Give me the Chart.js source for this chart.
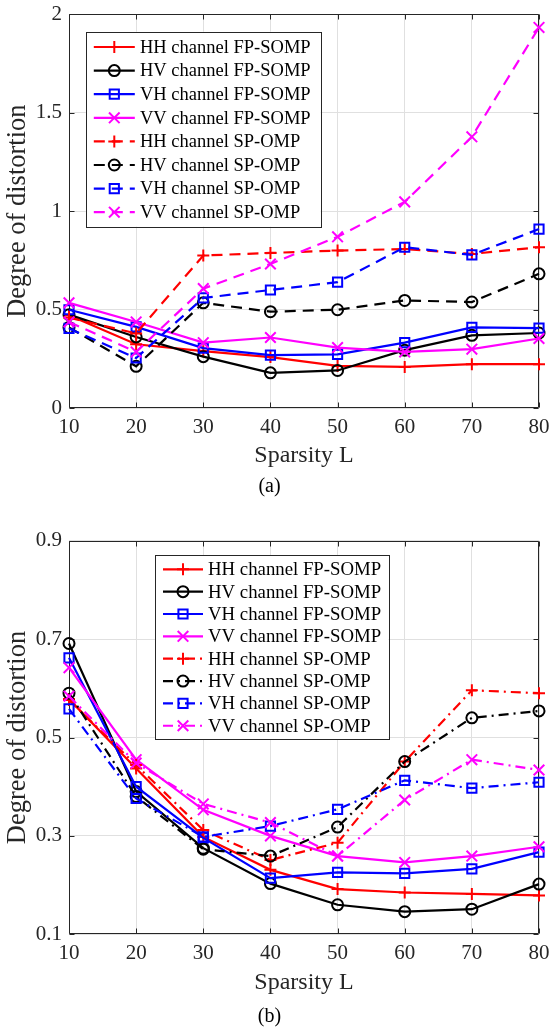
<!DOCTYPE html>
<html>
<head>
<meta charset="utf-8">
<title>Degree of distortion vs. sparsity</title>
<script src="https://cdn.jsdelivr.net/npm/chart.js@4/dist/chart.umd.min.js"></script>
<style>
  html, body { margin: 0; padding: 0; background: #ffffff; }
  #wrap { width: 549px; height: 1030px; position: relative; overflow: hidden; }
  canvas { display: block; }
</style>
</head>
<body>
<div id="wrap">
  <canvas id="chartA" width="549" height="515"></canvas>
  <canvas id="chartB" width="549" height="515"></canvas>
</div>
<script>
// ---- data ----
const sparsity = ['10', '20', '30', '40', '50', '60', '70', '80'];
const seriesNames = [
  'HH channel FP-SOMP', 'HV channel FP-SOMP', 'VH channel FP-SOMP', 'VV channel FP-SOMP',
  'HH channel SP-OMP', 'HV channel SP-OMP', 'VH channel SP-OMP', 'VV channel SP-OMP'
];

// panel (a)
const hhFpA = [0.472, 0.325, 0.290, 0.260, 0.215, 0.210, 0.224, 0.224];
const hvFpA = [0.475, 0.362, 0.262, 0.180, 0.192, 0.295, 0.370, 0.382];
const vhFpA = [0.500, 0.413, 0.305, 0.270, 0.274, 0.333, 0.410, 0.407];
const vvFpA = [0.535, 0.438, 0.333, 0.359, 0.308, 0.286, 0.300, 0.354];
const hhSpA = [0.460, 0.380, 0.775, 0.788, 0.800, 0.808, 0.783, 0.817];
const hvSpA = [0.410, 0.213, 0.535, 0.490, 0.500, 0.547, 0.539, 0.682];
const vhSpA = [0.405, 0.255, 0.560, 0.600, 0.640, 0.817, 0.778, 0.909];
const vvSpA = [0.438, 0.286, 0.607, 0.732, 0.870, 1.047, 1.377, 1.932];
const yTicksA = [0, 0.5, 1, 1.5, 2];
const yTickLabelsA = ['0', '0.5', '1', '1.5', '2'];

// panel (b)
const hhFpB = [0.578, 0.437, 0.298, 0.231, 0.192, 0.185, 0.182, 0.179];
const hvFpB = [0.691, 0.390, 0.275, 0.203, 0.160, 0.146, 0.151, 0.202];
const vhFpB = [0.662, 0.400, 0.296, 0.214, 0.226, 0.224, 0.233, 0.267];
const vvFpB = [0.642, 0.455, 0.353, 0.300, 0.259, 0.246, 0.259, 0.278];
const hhSpB = [0.576, 0.444, 0.312, 0.251, 0.286, 0.451, 0.596, 0.590];
const hvSpB = [0.590, 0.380, 0.273, 0.259, 0.318, 0.451, 0.540, 0.554];
const vhSpB = [0.558, 0.376, 0.298, 0.320, 0.354, 0.413, 0.397, 0.409];
const vvSpB = [0.584, 0.448, 0.365, 0.327, 0.259, 0.373, 0.455, 0.434];
const yTicksB = [0.1, 0.3, 0.5, 0.7, 0.9];
const yTickLabelsB = ['0.1', '0.3', '0.5', '0.7', '0.9'];

// ---- styling ----
const SERIF = '"Liberation Serif", "Times New Roman", Times, serif';
const AXIS_COLOR = '#262626';
const GRID_COLOR = '#e0e0e0';
const markerStyles = [
  { color: '#ff0000', point: 'cross',    radius: 6 },
  { color: '#000000', point: 'circle',   radius: 5.5 },
  { color: '#0000ff', point: 'rect',     radius: 6.5 },
  { color: '#ff00ff', point: 'crossRot', radius: 7.5 }
];
const LINE_W = 2.2;

function makeDatasets(seriesList, spDash) {
  return seriesList.map((values, i) => {
    const st = markerStyles[i % 4];
    return {
      label: seriesNames[i],
      data: values,
      borderColor: st.color,
      backgroundColor: 'rgba(0,0,0,0)',
      borderWidth: LINE_W,
      borderDash: i >= 4 ? spDash : [],
      pointStyle: st.point,
      pointRadius: st.radius,
      pointHoverRadius: st.radius,
      pointBorderWidth: 2,
      pointBorderColor: st.color,
      pointBackgroundColor: 'rgba(0,0,0,0)',
      tension: 0,
      fill: false,
      clip: false,
      order: seriesList.length - i
    };
  });
}

// marker used in the legend samples
function drawMarker(ctx, style, x, y, r) {
  ctx.beginPath();
  if (style === 'circle') {
    ctx.arc(x, y, r, 0, Math.PI * 2);
  } else if (style === 'rect') {
    const s = r * Math.SQRT1_2;
    ctx.rect(x - s, y - s, 2 * s, 2 * s);
  } else if (style === 'cross') {
    ctx.moveTo(x - r, y); ctx.lineTo(x + r, y);
    ctx.moveTo(x, y - r); ctx.lineTo(x, y + r);
  } else if (style === 'crossRot') {
    const d = r * Math.SQRT1_2;
    ctx.moveTo(x - d, y - d); ctx.lineTo(x + d, y + d);
    ctx.moveTo(x - d, y + d); ctx.lineTo(x + d, y - d);
  }
  ctx.stroke();
}

// axes box with inward tick marks (drawn beneath the data)
const framePlugin = {
  id: 'axesFrame',
  beforeDatasetsDraw(chart) {
    const { ctx, chartArea: a, scales } = chart;
    const L = Math.round(a.left) + 0.5, R = Math.round(a.right) - 0.5;
    const T = Math.round(a.top) + 0.5, B = Math.round(a.bottom) - 0.5;
    const tk = 5;
    ctx.save();
    ctx.strokeStyle = AXIS_COLOR;
    ctx.lineWidth = 1;
    ctx.beginPath();
    ctx.rect(L, T, R - L, B - T);
    scales.x.ticks.forEach((t, i) => {
      const px = Math.round(scales.x.getPixelForTick(i)) + 0.5;
      ctx.moveTo(px, B); ctx.lineTo(px, B - tk);
      ctx.moveTo(px, T); ctx.lineTo(px, T + tk);
    });
    scales.y.ticks.forEach(t => {
      const py = Math.round(scales.y.getPixelForValue(t.value)) + 0.5;
      ctx.moveTo(L, py); ctx.lineTo(L + tk, py);
      ctx.moveTo(R, py); ctx.lineTo(R - tk, py);
    });
    ctx.stroke();
    ctx.restore();
  }
};

// boxed legend placed inside the plot
const boxLegendPlugin = {
  id: 'boxLegend',
  afterDatasetsDraw(chart, args, opts) {
    const { ctx } = chart;
    const b = opts.box;
    ctx.save();
    ctx.fillStyle = '#ffffff';
    ctx.fillRect(b.x0, b.y0, b.x1 - b.x0, b.y1 - b.y0);
    ctx.strokeStyle = AXIS_COLOR;
    ctx.lineWidth = 1;
    ctx.strokeRect(Math.round(b.x0) + 0.5, Math.round(b.y0) + 0.5,
                   Math.round(b.x1 - b.x0), Math.round(b.y1 - b.y0));
    ctx.font = opts.fontSize + 'px ' + SERIF;
    ctx.textBaseline = 'middle';
    ctx.textAlign = 'left';
    chart.data.datasets.forEach((ds, i) => {
      const y = b.rowY0 + i * b.rowStep;
      ctx.strokeStyle = ds.borderColor;
      ctx.lineWidth = ds.borderWidth;
      ctx.setLineDash(ds.borderDash || []);
      ctx.beginPath();
      ctx.moveTo(b.lineX0, y);
      ctx.lineTo(b.lineX1, y);
      ctx.stroke();
      ctx.setLineDash([]);
      ctx.lineWidth = ds.pointBorderWidth;
      drawMarker(ctx, ds.pointStyle, (b.lineX0 + b.lineX1) / 2, y, ds.pointRadius);
      ctx.fillStyle = '#000000';
      ctx.fillText(ds.label, b.textX, y + 1);
    });
    ctx.restore();
  }
};

function buildChart(canvasId, cfg) {
  return new Chart(document.getElementById(canvasId), {
    type: 'line',
    data: { labels: sparsity, datasets: cfg.datasets },
    plugins: [framePlugin, boxLegendPlugin],
    options: {
      responsive: false,
      devicePixelRatio: 1,
      animation: false,
      events: [],
      layout: { padding: { top: cfg.padTop, right: 10, bottom: 0, left: 0 } },
      plugins: {
        legend: { display: false },
        tooltip: { enabled: false },
        title: {
          display: true,
          position: 'bottom',
          text: cfg.caption,
          color: '#000000',
          font: { family: SERIF, size: 20, weight: 'normal', lineHeight: 1.2 },
          padding: { top: 0, bottom: cfg.captionPad }
        },
        boxLegend: { box: cfg.legendBox, fontSize: cfg.legendFont }
      },
      scales: {
        x: {
          type: 'category',
          offset: false,
          grid: { color: GRID_COLOR, lineWidth: 1, drawTicks: false, offset: false },
          border: { display: false },
          ticks: {
            autoSkip: false, maxRotation: 0, padding: 7, color: AXIS_COLOR,
            font: { family: SERIF, size: 21, lineHeight: 1.2 }
          },
          title: {
            display: true, text: 'Sparsity L', color: AXIS_COLOR,
            font: { family: SERIF, size: 24, lineHeight: 1.2 },
            padding: { top: 0, bottom: cfg.xTitlePad }
          },
          afterFit(scale) {
            scale.height = cfg.xHeight;
            scale.paddingLeft = 0;
            scale.paddingRight = 0;
          }
        },
        y: {
          type: 'linear',
          min: cfg.yMin,
          max: cfg.yMax,
          grid: { color: GRID_COLOR, lineWidth: 1, drawTicks: false },
          border: { display: false },
          ticks: {
            padding: 7, color: AXIS_COLOR,
            font: { family: SERIF, size: 21, lineHeight: 1.2 },
            callback: (v, i) => cfg.yLabels[i]
          },
          afterBuildTicks(scale) {
            scale.ticks = cfg.yTicks.map(v => ({ value: v }));
          },
          title: {
            display: true, text: 'Degree of distortion', color: AXIS_COLOR,
            font: { family: SERIF, size: 26.5, lineHeight: 1.2 },
            padding: { top: 2, bottom: 0 }
          },
          afterFit(scale) {
            scale.width = 69;
            scale.paddingTop = 0;
            scale.paddingBottom = 0;
          }
        }
      }
    }
  });
}

buildChart('chartA', {
  datasets: makeDatasets([hhFpA, hvFpA, vhFpA, vvFpA, hhSpA, hvSpA, vhSpA, vvSpA], [11, 7]),
  yMin: 0, yMax: 2, yTicks: yTicksA, yLabels: yTickLabelsA,
  padTop: 14, xHeight: 66.7, xTitlePad: 5.2,
  caption: '(a)', captionPad: 16,
  legendFont: 18.5,
  legendBox: { x0: 85.8, y0: 31.7, x1: 320.7, y1: 226.7, rowY0: 47, rowStep: 23.6,
               lineX0: 93.8, lineX1: 134.8, textX: 140 }
});

buildChart('chartB', {
  datasets: makeDatasets([hhFpB, hvFpB, vhFpB, vvFpB, hhSpB, hvSpB, vhSpB, vvSpB], [10, 5, 2, 5]),
  yMin: 0.1, yMax: 0.9, yTicks: yTicksB, yLabels: yTickLabelsB,
  padTop: 25.7, xHeight: 70.4, xTitlePad: 7.6,
  caption: '(b)', captionPad: 1.3,
  legendFont: 18.8,
  legendBox: { x0: 155, y0: 40, x1: 388.5, y1: 224, rowY0: 54.3, rowStep: 22.35,
               lineX0: 163, lineX1: 203, textX: 208 }
});
</script>
</body>
</html>
